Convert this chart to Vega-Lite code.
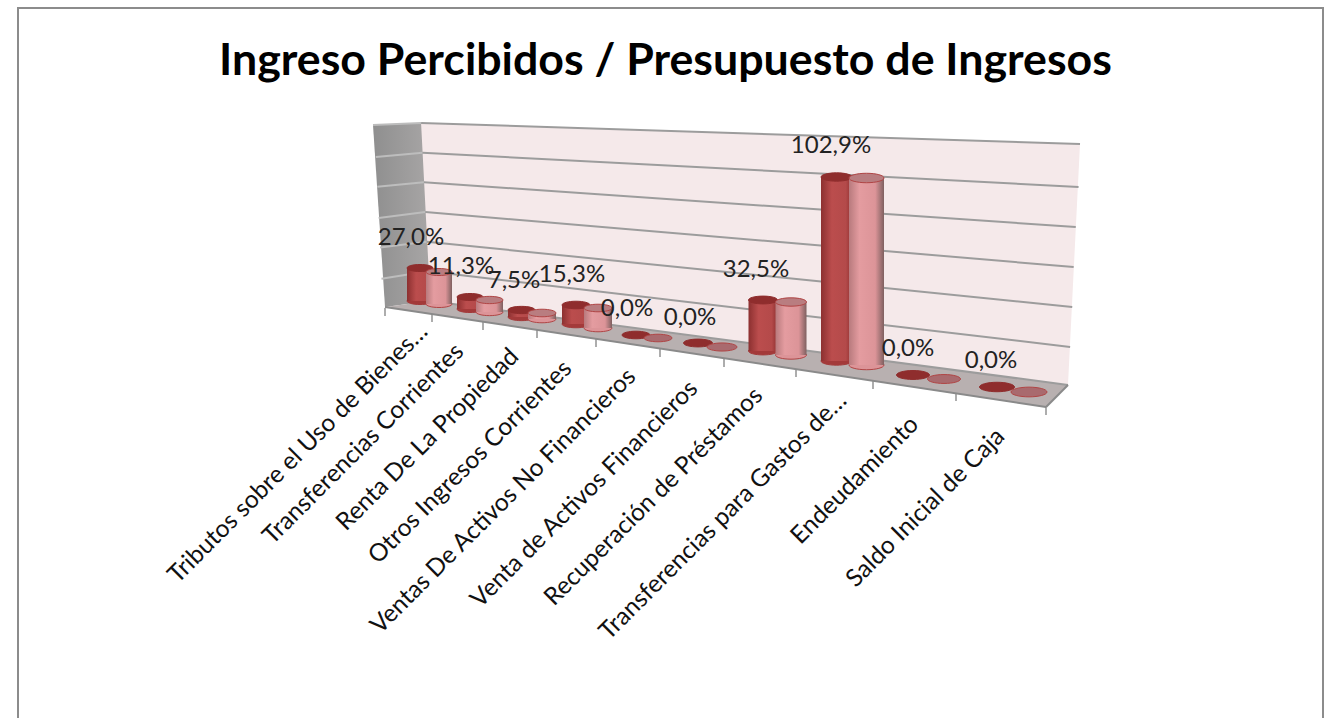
{"$schema":"https://vega.github.io/schema/vega-lite/v6.json","width":1305,"height":712,"autosize":{"type":"none"},"padding":{"left":18,"top":8,"right":7,"bottom":0},"background":"white","view":{"stroke":"#8c8c8c","strokeWidth":2,"fill":null},
"title":{"text":"Ingreso Percibidos / Presupuesto de Ingresos","font":"Lato","fontSize":44.7,"fontWeight":"bold","color":"#000000","anchor":"middle","orient":"top","frame":"group","offset":-77,"dx":-5},
"datasets":{
"valores":[
{"categoria":"Tributos sobre el Uso de Bienes…","orden":1,"serie":"Serie 1","valor":27.0,"etiqueta":"27,0%"},
{"categoria":"Transferencias Corrientes","orden":2,"serie":"Serie 1","valor":11.3,"etiqueta":"11,3%"},
{"categoria":"Renta De La Propiedad","orden":3,"serie":"Serie 1","valor":7.5,"etiqueta":"7,5%"},
{"categoria":"Otros Ingresos Corrientes","orden":4,"serie":"Serie 1","valor":15.3,"etiqueta":"15,3%"},
{"categoria":"Ventas De Activos No Financieros","orden":5,"serie":"Serie 1","valor":0,"etiqueta":"0,0%"},
{"categoria":"Venta de Activos Financieros","orden":6,"serie":"Serie 1","valor":0,"etiqueta":"0,0%"},
{"categoria":"Recuperación de Préstamos","orden":7,"serie":"Serie 1","valor":32.5,"etiqueta":"32,5%"},
{"categoria":"Transferencias para Gastos de…","orden":8,"serie":"Serie 1","valor":102.9,"etiqueta":"102,9%"},
{"categoria":"Endeudamiento","orden":9,"serie":"Serie 1","valor":0,"etiqueta":"0,0%"},
{"categoria":"Saldo Inicial de Caja","orden":10,"serie":"Serie 1","valor":0,"etiqueta":"0,0%"},
{"categoria":"Tributos sobre el Uso de Bienes…","orden":1,"serie":"Serie 2","valor":27.0},
{"categoria":"Transferencias Corrientes","orden":2,"serie":"Serie 2","valor":11.3},
{"categoria":"Renta De La Propiedad","orden":3,"serie":"Serie 2","valor":7.5},
{"categoria":"Otros Ingresos Corrientes","orden":4,"serie":"Serie 2","valor":15.3},
{"categoria":"Ventas De Activos No Financieros","orden":5,"serie":"Serie 2","valor":0},
{"categoria":"Venta de Activos Financieros","orden":6,"serie":"Serie 2","valor":0},
{"categoria":"Recuperación de Préstamos","orden":7,"serie":"Serie 2","valor":32.5},
{"categoria":"Transferencias para Gastos de…","orden":8,"serie":"Serie 2","valor":102.9},
{"categoria":"Endeudamiento","orden":9,"serie":"Serie 2","valor":0},
{"categoria":"Saldo Inicial de Caja","orden":10,"serie":"Serie 2","valor":0}
],
"lateral":[{"p":0,"a":118.6,"b":118.6},{"p":1.7,"a":119,"b":-4},{"p":8.1,"a":119.8,"b":0}],
"fondo":[{"p":6.8,"a":120,"b":120},{"p":8.1,"a":119.7,"b":0},{"p":98.3,"a":106,"b":-56.6},{"p":100,"a":105.8,"b":105.8}],
"suelo":[{"p":1.7,"a":-4,"b":-4},{"p":8.1,"a":0,"b":-8.6},{"p":95.2,"a":-54.7,"b":-71.5},{"p":98.3,"a":-56.6,"b":-56.6}],
"rejilla":[
{"p1":6.8,"p2":100,"n1":120,"n2":105.8},{"p1":7.0,"p2":99.8,"n1":100,"n2":76.9},{"p1":7.2,"p2":99.4,"n1":80,"n2":49.9},{"p1":7.4,"p2":99.1,"n1":60,"n2":22.9},{"p1":7.6,"p2":98.9,"n1":40,"n2":-4},{"p1":7.8,"p2":98.6,"n1":20,"n2":-31},{"p1":8.1,"p2":98.3,"n1":0,"n2":-56.6}],
"rejillaLateral":[
{"p1":0,"p2":6.8,"n1":118.6,"n2":120},{"p1":0.4,"p2":7.0,"n1":97,"n2":100},{"p1":0.6,"p2":7.2,"n1":77,"n2":80},{"p1":0.8,"p2":7.4,"n1":56,"n2":60},{"p1":1.0,"p2":7.6,"n1":36,"n2":40},{"p1":1.2,"p2":7.8,"n1":15,"n2":20}],
"bordes":[{"p1":1.7,"p2":95.2,"n1":-4,"n2":-71.5},{"p1":95.2,"p2":98.3,"n1":-71.5,"n2":-56.6}],
"marcas":[{"m":1},{"m":2},{"m":3},{"m":4},{"m":5},{"m":6},{"m":7},{"m":8},{"m":9},{"m":10},{"m":11}]
},
"resolve":{"scale":{"x":"independent","y":"independent","yOffset":"independent"}},
"layer":[
{"data":{"name":"lateral"},"mark":{"type":"area","color":{"x1":0,"y1":0,"x2":1,"y2":0,"gradient":"linear","stops":[{"offset":0,"color":"#8f8f8f"},{"offset":1,"color":"#a8a6a6"}]}},"encoding":{"x":{"field":"p","type":"quantitative","axis":null,"scale":{"domain":[0,100],"range":[355,1062],"nice":false,"zero":false}},"y":{"field":"a","type":"quantitative","axis":null,"scale":{"domain":[0,120],"range":[293,115],"nice":false,"zero":false}},"y2":{"field":"b"}}},
{"data":{"name":"fondo"},"mark":{"type":"area","color":"#f5e9ea"},"encoding":{"x":{"field":"p","type":"quantitative","axis":null,"scale":{"domain":[0,100],"range":[355,1062],"nice":false,"zero":false}},"y":{"field":"a","type":"quantitative","axis":null,"scale":{"domain":[0,120],"range":[293,115],"nice":false,"zero":false}},"y2":{"field":"b"}}},
{"data":{"name":"suelo"},"mark":{"type":"area","color":"#b8b0b0"},"encoding":{"x":{"field":"p","type":"quantitative","axis":null,"scale":{"domain":[0,100],"range":[355,1062],"nice":false,"zero":false}},"y":{"field":"a","type":"quantitative","axis":null,"scale":{"domain":[0,120],"range":[293,115],"nice":false,"zero":false}},"y2":{"field":"b"}}},
{"data":{"name":"rejillaLateral"},"mark":{"type":"rule","color":"#bdbdbd","strokeWidth":2},"encoding":{"x":{"field":"p1","type":"quantitative","axis":null,"scale":{"domain":[0,100],"range":[355,1062],"nice":false,"zero":false}},"x2":{"field":"p2"},"y":{"field":"n1","type":"quantitative","axis":null,"scale":{"domain":[0,120],"range":[293,115],"nice":false,"zero":false}},"y2":{"field":"n2"}}},
{"data":{"name":"rejilla"},"mark":{"type":"rule","color":"#9c9c9c","strokeWidth":2},"encoding":{"x":{"field":"p1","type":"quantitative","axis":null,"scale":{"domain":[0,100],"range":[355,1062],"nice":false,"zero":false}},"x2":{"field":"p2"},"y":{"field":"n1","type":"quantitative","axis":null,"scale":{"domain":[0,120],"range":[293,115],"nice":false,"zero":false}},"y2":{"field":"n2"}}},
{"data":{"name":"bordes"},"mark":{"type":"rule","color":"#8a8a8a","strokeWidth":2},"encoding":{"x":{"field":"p1","type":"quantitative","axis":null,"scale":{"domain":[0,100],"range":[355,1062],"nice":false,"zero":false}},"x2":{"field":"p2"},"y":{"field":"n1","type":"quantitative","axis":null,"scale":{"domain":[0,120],"range":[293,115],"nice":false,"zero":false}},"y2":{"field":"n2"}}},
{"data":{"name":"marcas"},"mark":{"type":"tick","orient":"vertical","color":"#8a8a8a","size":8,"thickness":2},"encoding":{"x":{"field":"m","type":"quantitative","axis":null,"scale":{"domain":[1,2,3,4,5,6,7,8,9,10,11],"range":[367,414,465,519,578,642,706,778,855,938,1028],"nice":false,"zero":false}},"y":{"datum":0,"type":"quantitative","axis":null,"scale":{"domain":[0,1],"range":[0,-1],"nice":false}},"yOffset":{"field":"m","type":"quantitative","scale":{"domain":[1,2,3,4,5,6,7,8,9,10,11],"range":[304,310,318,326,335,345,355,365,377,389,403],"nice":false,"zero":false}}}},

{"data":{"name":"valores"},"transform":[{"filter":"datum.serie==='Serie 1' && datum.orden===1"}],"encoding":{"x":{"field":"orden","type":"quantitative","axis":null,"scale":{"domain":[1,2],"range":[402,403],"padding":0,"nice":false,"zero":false}},"y":{"field":"valor","type":"quantitative","axis":null,"scale":{"domain":[0,27],"range":[293,260],"nice":false,"zero":false}}},"layer":[
{"mark":{"type":"point","filled":true,"opacity":1,"size":676,"strokeWidth":1,"shape":"M-1,0A1,0.27,0,1,1,1,0A1,0.27,0,1,1,-1,0Z","fill":"#a33a3a","stroke":"#a33a3a"},"encoding":{"y":{"datum":0,"type":"quantitative","axis":null}}},
{"mark":{"type":"bar","orient":"vertical","size":26,"color":{"x1":0,"y1":0,"x2":1,"y2":0,"gradient":"linear","stops":[{"offset":0,"color":"#8c3030"},{"offset":0.35,"color":"#bb4d4d"},{"offset":0.8,"color":"#b44a4a"},{"offset":1,"color":"#8f3030"}]}},"encoding":{"y2":{"datum":0}}},
{"mark":{"type":"point","filled":true,"opacity":1,"size":676,"strokeWidth":1,"shape":"M-1,0A1,0.27,0,1,1,1,0A1,0.27,0,1,1,-1,0Z","fill":"#8f2d2d","stroke":"#8f2d2d"}}
]},
{"data":{"name":"valores"},"transform":[{"filter":"datum.serie==='Serie 2' && datum.orden===1"}],"encoding":{"x":{"field":"orden","type":"quantitative","axis":null,"scale":{"domain":[1,2],"range":[421,422],"padding":0,"nice":false,"zero":false}},"y":{"field":"valor","type":"quantitative","axis":null,"scale":{"domain":[0,27],"range":[296,264],"nice":false,"zero":false}}},"layer":[
{"mark":{"type":"point","filled":true,"opacity":1,"size":676,"strokeWidth":1,"shape":"M-1,0A1,0.27,0,1,1,1,0A1,0.27,0,1,1,-1,0Z","fill":"#dc9498","stroke":"#b04545"},"encoding":{"y":{"datum":0,"type":"quantitative","axis":null}}},
{"mark":{"type":"bar","orient":"vertical","size":26,"color":{"x1":0,"y1":0,"x2":1,"y2":0,"gradient":"linear","stops":[{"offset":0,"color":"#b87a7d"},{"offset":0.3,"color":"#e49ca0"},{"offset":0.75,"color":"#dc9498"},{"offset":1,"color":"#7f6060"}]}},"encoding":{"y2":{"datum":0}}},
{"mark":{"type":"point","filled":true,"opacity":1,"size":676,"strokeWidth":1,"shape":"M-1,0A1,0.27,0,1,1,1,0A1,0.27,0,1,1,-1,0Z","fill":"#b97d80","stroke":"#b04545"}}
]},

{"data":{"name":"valores"},"transform":[{"filter":"datum.serie==='Serie 1' && datum.orden===2"}],"encoding":{"x":{"field":"orden","type":"quantitative","axis":null,"scale":{"domain":[2,3],"range":[452,453],"padding":0,"nice":false,"zero":false}},"y":{"field":"valor","type":"quantitative","axis":null,"scale":{"domain":[0,11.3],"range":[301,289],"nice":false,"zero":false}}},"layer":[
{"mark":{"type":"point","filled":true,"opacity":1,"size":676,"strokeWidth":1,"shape":"M-1,0A1,0.27,0,1,1,1,0A1,0.27,0,1,1,-1,0Z","fill":"#a33a3a","stroke":"#a33a3a"},"encoding":{"y":{"datum":0,"type":"quantitative","axis":null}}},
{"mark":{"type":"bar","orient":"vertical","size":26,"color":{"x1":0,"y1":0,"x2":1,"y2":0,"gradient":"linear","stops":[{"offset":0,"color":"#8c3030"},{"offset":0.35,"color":"#bb4d4d"},{"offset":0.8,"color":"#b44a4a"},{"offset":1,"color":"#8f3030"}]}},"encoding":{"y2":{"datum":0}}},
{"mark":{"type":"point","filled":true,"opacity":1,"size":676,"strokeWidth":1,"shape":"M-1,0A1,0.27,0,1,1,1,0A1,0.27,0,1,1,-1,0Z","fill":"#8f2d2d","stroke":"#8f2d2d"}}
]},
{"data":{"name":"valores"},"transform":[{"filter":"datum.serie==='Serie 2' && datum.orden===2"}],"encoding":{"x":{"field":"orden","type":"quantitative","axis":null,"scale":{"domain":[2,3],"range":[471.5,472.5],"padding":0,"nice":false,"zero":false}},"y":{"field":"valor","type":"quantitative","axis":null,"scale":{"domain":[0,11.3],"range":[304,292],"nice":false,"zero":false}}},"layer":[
{"mark":{"type":"point","filled":true,"opacity":1,"size":729,"strokeWidth":1,"shape":"M-1,0A1,0.27,0,1,1,1,0A1,0.27,0,1,1,-1,0Z","fill":"#dc9498","stroke":"#b04545"},"encoding":{"y":{"datum":0,"type":"quantitative","axis":null}}},
{"mark":{"type":"bar","orient":"vertical","size":27,"color":{"x1":0,"y1":0,"x2":1,"y2":0,"gradient":"linear","stops":[{"offset":0,"color":"#b87a7d"},{"offset":0.3,"color":"#e49ca0"},{"offset":0.75,"color":"#dc9498"},{"offset":1,"color":"#7f6060"}]}},"encoding":{"y2":{"datum":0}}},
{"mark":{"type":"point","filled":true,"opacity":1,"size":729,"strokeWidth":1,"shape":"M-1,0A1,0.27,0,1,1,1,0A1,0.27,0,1,1,-1,0Z","fill":"#b97d80","stroke":"#b04545"}}
]},

{"data":{"name":"valores"},"transform":[{"filter":"datum.serie==='Serie 1' && datum.orden===3"}],"encoding":{"x":{"field":"orden","type":"quantitative","axis":null,"scale":{"domain":[3,4],"range":[503.5,504.5],"padding":0,"nice":false,"zero":false}},"y":{"field":"valor","type":"quantitative","axis":null,"scale":{"domain":[0,7.5],"range":[309,302],"nice":false,"zero":false}}},"layer":[
{"mark":{"type":"point","filled":true,"opacity":1,"size":729,"strokeWidth":1,"shape":"M-1,0A1,0.27,0,1,1,1,0A1,0.27,0,1,1,-1,0Z","fill":"#a33a3a","stroke":"#a33a3a"},"encoding":{"y":{"datum":0,"type":"quantitative","axis":null}}},
{"mark":{"type":"bar","orient":"vertical","size":27,"color":{"x1":0,"y1":0,"x2":1,"y2":0,"gradient":"linear","stops":[{"offset":0,"color":"#8c3030"},{"offset":0.35,"color":"#bb4d4d"},{"offset":0.8,"color":"#b44a4a"},{"offset":1,"color":"#8f3030"}]}},"encoding":{"y2":{"datum":0}}},
{"mark":{"type":"point","filled":true,"opacity":1,"size":729,"strokeWidth":1,"shape":"M-1,0A1,0.27,0,1,1,1,0A1,0.27,0,1,1,-1,0Z","fill":"#8f2d2d","stroke":"#8f2d2d"}}
]},
{"data":{"name":"valores"},"transform":[{"filter":"datum.serie==='Serie 2' && datum.orden===3"}],"encoding":{"x":{"field":"orden","type":"quantitative","axis":null,"scale":{"domain":[3,4],"range":[524,525],"padding":0,"nice":false,"zero":false}},"y":{"field":"valor","type":"quantitative","axis":null,"scale":{"domain":[0,7.5],"range":[311,305],"nice":false,"zero":false}}},"layer":[
{"mark":{"type":"point","filled":true,"opacity":1,"size":784,"strokeWidth":1,"shape":"M-1,0A1,0.27,0,1,1,1,0A1,0.27,0,1,1,-1,0Z","fill":"#dc9498","stroke":"#b04545"},"encoding":{"y":{"datum":0,"type":"quantitative","axis":null}}},
{"mark":{"type":"bar","orient":"vertical","size":28,"color":{"x1":0,"y1":0,"x2":1,"y2":0,"gradient":"linear","stops":[{"offset":0,"color":"#b87a7d"},{"offset":0.3,"color":"#e49ca0"},{"offset":0.75,"color":"#dc9498"},{"offset":1,"color":"#7f6060"}]}},"encoding":{"y2":{"datum":0}}},
{"mark":{"type":"point","filled":true,"opacity":1,"size":784,"strokeWidth":1,"shape":"M-1,0A1,0.27,0,1,1,1,0A1,0.27,0,1,1,-1,0Z","fill":"#b97d80","stroke":"#b04545"}}
]},

{"data":{"name":"valores"},"transform":[{"filter":"datum.serie==='Serie 1' && datum.orden===4"}],"encoding":{"x":{"field":"orden","type":"quantitative","axis":null,"scale":{"domain":[4,5],"range":[558,559],"padding":0,"nice":false,"zero":false}},"y":{"field":"valor","type":"quantitative","axis":null,"scale":{"domain":[0,15.3],"range":[316,297],"nice":false,"zero":false}}},"layer":[
{"mark":{"type":"point","filled":true,"opacity":1,"size":784,"strokeWidth":1,"shape":"M-1,0A1,0.27,0,1,1,1,0A1,0.27,0,1,1,-1,0Z","fill":"#a33a3a","stroke":"#a33a3a"},"encoding":{"y":{"datum":0,"type":"quantitative","axis":null}}},
{"mark":{"type":"bar","orient":"vertical","size":28,"color":{"x1":0,"y1":0,"x2":1,"y2":0,"gradient":"linear","stops":[{"offset":0,"color":"#8c3030"},{"offset":0.35,"color":"#bb4d4d"},{"offset":0.8,"color":"#b44a4a"},{"offset":1,"color":"#8f3030"}]}},"encoding":{"y2":{"datum":0}}},
{"mark":{"type":"point","filled":true,"opacity":1,"size":784,"strokeWidth":1,"shape":"M-1,0A1,0.27,0,1,1,1,0A1,0.27,0,1,1,-1,0Z","fill":"#8f2d2d","stroke":"#8f2d2d"}}
]},
{"data":{"name":"valores"},"transform":[{"filter":"datum.serie==='Serie 2' && datum.orden===4"}],"encoding":{"x":{"field":"orden","type":"quantitative","axis":null,"scale":{"domain":[4,5],"range":[580,581],"padding":0,"nice":false,"zero":false}},"y":{"field":"valor","type":"quantitative","axis":null,"scale":{"domain":[0,15.3],"range":[320,300],"nice":false,"zero":false}}},"layer":[
{"mark":{"type":"point","filled":true,"opacity":1,"size":784,"strokeWidth":1,"shape":"M-1,0A1,0.27,0,1,1,1,0A1,0.27,0,1,1,-1,0Z","fill":"#dc9498","stroke":"#b04545"},"encoding":{"y":{"datum":0,"type":"quantitative","axis":null}}},
{"mark":{"type":"bar","orient":"vertical","size":28,"color":{"x1":0,"y1":0,"x2":1,"y2":0,"gradient":"linear","stops":[{"offset":0,"color":"#b87a7d"},{"offset":0.3,"color":"#e49ca0"},{"offset":0.75,"color":"#dc9498"},{"offset":1,"color":"#7f6060"}]}},"encoding":{"y2":{"datum":0}}},
{"mark":{"type":"point","filled":true,"opacity":1,"size":784,"strokeWidth":1,"shape":"M-1,0A1,0.27,0,1,1,1,0A1,0.27,0,1,1,-1,0Z","fill":"#b97d80","stroke":"#b04545"}}
]},

{"data":{"name":"valores"},"transform":[{"filter":"datum.serie==='Serie 1' && datum.orden===5"}],"encoding":{"x":{"field":"orden","type":"quantitative","axis":null,"scale":{"domain":[5,6],"range":[618,619],"nice":false,"zero":false}},"y":{"field":"valor","type":"quantitative","axis":null,"scale":{"domain":[0,1],"range":[327,326],"nice":false,"zero":false}}},"mark":{"type":"point","filled":true,"opacity":1,"size":784,"strokeWidth":1,"shape":"M-1,0A1,0.27,0,1,1,1,0A1,0.27,0,1,1,-1,0Z","fill":"#8f2d2d","stroke":"#8f2d2d"}},
{"data":{"name":"valores"},"transform":[{"filter":"datum.serie==='Serie 2' && datum.orden===5"}],"encoding":{"x":{"field":"orden","type":"quantitative","axis":null,"scale":{"domain":[5,6],"range":[640,641],"nice":false,"zero":false}},"y":{"field":"valor","type":"quantitative","axis":null,"scale":{"domain":[0,1],"range":[330,329],"nice":false,"zero":false}}},"mark":{"type":"point","filled":true,"opacity":1,"size":784,"strokeWidth":1,"shape":"M-1,0A1,0.27,0,1,1,1,0A1,0.27,0,1,1,-1,0Z","fill":"#a96a6e","stroke":"#b04545"}},
{"data":{"name":"valores"},"transform":[{"filter":"datum.serie==='Serie 1' && datum.orden===6"}],"encoding":{"x":{"field":"orden","type":"quantitative","axis":null,"scale":{"domain":[6,7],"range":[680,681],"nice":false,"zero":false}},"y":{"field":"valor","type":"quantitative","axis":null,"scale":{"domain":[0,1],"range":[335,334],"nice":false,"zero":false}}},"mark":{"type":"point","filled":true,"opacity":1,"size":841,"strokeWidth":1,"shape":"M-1,0A1,0.27,0,1,1,1,0A1,0.27,0,1,1,-1,0Z","fill":"#8f2d2d","stroke":"#8f2d2d"}},
{"data":{"name":"valores"},"transform":[{"filter":"datum.serie==='Serie 2' && datum.orden===6"}],"encoding":{"x":{"field":"orden","type":"quantitative","axis":null,"scale":{"domain":[6,7],"range":[704,705],"nice":false,"zero":false}},"y":{"field":"valor","type":"quantitative","axis":null,"scale":{"domain":[0,1],"range":[339,338],"nice":false,"zero":false}}},"mark":{"type":"point","filled":true,"opacity":1,"size":900,"strokeWidth":1,"shape":"M-1,0A1,0.27,0,1,1,1,0A1,0.27,0,1,1,-1,0Z","fill":"#a96a6e","stroke":"#b04545"}},

{"data":{"name":"valores"},"transform":[{"filter":"datum.serie==='Serie 1' && datum.orden===7"}],"encoding":{"x":{"field":"orden","type":"quantitative","axis":null,"scale":{"domain":[7,8],"range":[745,746],"padding":0,"nice":false,"zero":false}},"y":{"field":"valor","type":"quantitative","axis":null,"scale":{"domain":[0,32.5],"range":[343,292],"nice":false,"zero":false}}},"layer":[
{"mark":{"type":"point","filled":true,"opacity":1,"size":841,"strokeWidth":1,"shape":"M-1,0A1,0.27,0,1,1,1,0A1,0.27,0,1,1,-1,0Z","fill":"#a33a3a","stroke":"#a33a3a"},"encoding":{"y":{"datum":0,"type":"quantitative","axis":null}}},
{"mark":{"type":"bar","orient":"vertical","size":29,"color":{"x1":0,"y1":0,"x2":1,"y2":0,"gradient":"linear","stops":[{"offset":0,"color":"#8c3030"},{"offset":0.35,"color":"#bb4d4d"},{"offset":0.8,"color":"#b44a4a"},{"offset":1,"color":"#8f3030"}]}},"encoding":{"y2":{"datum":0}}},
{"mark":{"type":"point","filled":true,"opacity":1,"size":841,"strokeWidth":1,"shape":"M-1,0A1,0.27,0,1,1,1,0A1,0.27,0,1,1,-1,0Z","fill":"#8f2d2d","stroke":"#8f2d2d"}}
]},
{"data":{"name":"valores"},"transform":[{"filter":"datum.serie==='Serie 2' && datum.orden===7"}],"encoding":{"x":{"field":"orden","type":"quantitative","axis":null,"scale":{"domain":[7,8],"range":[773,774],"padding":0,"nice":false,"zero":false}},"y":{"field":"valor","type":"quantitative","axis":null,"scale":{"domain":[0,32.5],"range":[347,294],"nice":false,"zero":false}}},"layer":[
{"mark":{"type":"point","filled":true,"opacity":1,"size":961,"strokeWidth":1,"shape":"M-1,0A1,0.27,0,1,1,1,0A1,0.27,0,1,1,-1,0Z","fill":"#dc9498","stroke":"#b04545"},"encoding":{"y":{"datum":0,"type":"quantitative","axis":null}}},
{"mark":{"type":"bar","orient":"vertical","size":31,"color":{"x1":0,"y1":0,"x2":1,"y2":0,"gradient":"linear","stops":[{"offset":0,"color":"#b87a7d"},{"offset":0.3,"color":"#e49ca0"},{"offset":0.75,"color":"#dc9498"},{"offset":1,"color":"#7f6060"}]}},"encoding":{"y2":{"datum":0}}},
{"mark":{"type":"point","filled":true,"opacity":1,"size":961,"strokeWidth":1,"shape":"M-1,0A1,0.27,0,1,1,1,0A1,0.27,0,1,1,-1,0Z","fill":"#b97d80","stroke":"#b04545"}}
]},

{"data":{"name":"valores"},"transform":[{"filter":"datum.serie==='Serie 1' && datum.orden===8"}],"encoding":{"x":{"field":"orden","type":"quantitative","axis":null,"scale":{"domain":[8,9],"range":[818.5,819.5],"padding":0,"nice":false,"zero":false}},"y":{"field":"valor","type":"quantitative","axis":null,"scale":{"domain":[0,102.9],"range":[353,169],"nice":false,"zero":false}}},"layer":[
{"mark":{"type":"point","filled":true,"opacity":1,"size":961,"strokeWidth":1,"shape":"M-1,0A1,0.27,0,1,1,1,0A1,0.27,0,1,1,-1,0Z","fill":"#a33a3a","stroke":"#a33a3a"},"encoding":{"y":{"datum":0,"type":"quantitative","axis":null}}},
{"mark":{"type":"bar","orient":"vertical","size":31,"color":{"x1":0,"y1":0,"x2":1,"y2":0,"gradient":"linear","stops":[{"offset":0,"color":"#8c3030"},{"offset":0.35,"color":"#bb4d4d"},{"offset":0.8,"color":"#b44a4a"},{"offset":1,"color":"#8f3030"}]}},"encoding":{"y2":{"datum":0}}},
{"mark":{"type":"point","filled":true,"opacity":1,"size":961,"strokeWidth":1,"shape":"M-1,0A1,0.27,0,1,1,1,0A1,0.27,0,1,1,-1,0Z","fill":"#8f2d2d","stroke":"#8f2d2d"}}
]},
{"data":{"name":"valores"},"transform":[{"filter":"datum.serie==='Serie 2' && datum.orden===8"}],"encoding":{"x":{"field":"orden","type":"quantitative","axis":null,"scale":{"domain":[8,9],"range":[848.5,849.5],"padding":0,"nice":false,"zero":false}},"y":{"field":"valor","type":"quantitative","axis":null,"scale":{"domain":[0,102.9],"range":[357,170],"nice":false,"zero":false}}},"layer":[
{"mark":{"type":"point","filled":true,"opacity":1,"size":1225,"strokeWidth":1,"shape":"M-1,0A1,0.27,0,1,1,1,0A1,0.27,0,1,1,-1,0Z","fill":"#dc9498","stroke":"#b04545"},"encoding":{"y":{"datum":0,"type":"quantitative","axis":null}}},
{"mark":{"type":"bar","orient":"vertical","size":35,"color":{"x1":0,"y1":0,"x2":1,"y2":0,"gradient":"linear","stops":[{"offset":0,"color":"#b87a7d"},{"offset":0.3,"color":"#e49ca0"},{"offset":0.75,"color":"#dc9498"},{"offset":1,"color":"#7f6060"}]}},"encoding":{"y2":{"datum":0}}},
{"mark":{"type":"point","filled":true,"opacity":1,"size":1225,"strokeWidth":1,"shape":"M-1,0A1,0.27,0,1,1,1,0A1,0.27,0,1,1,-1,0Z","fill":"#b97d80","stroke":"#b04545"}}
]},

{"data":{"name":"valores"},"transform":[{"filter":"datum.serie==='Serie 1' && datum.orden===9"}],"encoding":{"x":{"field":"orden","type":"quantitative","axis":null,"scale":{"domain":[9,10],"range":[895,896],"nice":false,"zero":false}},"y":{"field":"valor","type":"quantitative","axis":null,"scale":{"domain":[0,1],"range":[367,366],"nice":false,"zero":false}}},"mark":{"type":"point","filled":true,"opacity":1,"size":1089,"strokeWidth":1,"shape":"M-1,0A1,0.27,0,1,1,1,0A1,0.27,0,1,1,-1,0Z","fill":"#8f2d2d","stroke":"#8f2d2d"}},
{"data":{"name":"valores"},"transform":[{"filter":"datum.serie==='Serie 2' && datum.orden===9"}],"encoding":{"x":{"field":"orden","type":"quantitative","axis":null,"scale":{"domain":[9,10],"range":[926,927],"nice":false,"zero":false}},"y":{"field":"valor","type":"quantitative","axis":null,"scale":{"domain":[0,1],"range":[371,370],"nice":false,"zero":false}}},"mark":{"type":"point","filled":true,"opacity":1,"size":1089,"strokeWidth":1,"shape":"M-1,0A1,0.27,0,1,1,1,0A1,0.27,0,1,1,-1,0Z","fill":"#a96a6e","stroke":"#b04545"}},
{"data":{"name":"valores"},"transform":[{"filter":"datum.serie==='Serie 1' && datum.orden===10"}],"encoding":{"x":{"field":"orden","type":"quantitative","axis":null,"scale":{"domain":[10,11],"range":[979,980],"nice":false,"zero":false}},"y":{"field":"valor","type":"quantitative","axis":null,"scale":{"domain":[0,1],"range":[379,378],"nice":false,"zero":false}}},"mark":{"type":"point","filled":true,"opacity":1,"size":1225,"strokeWidth":1,"shape":"M-1,0A1,0.27,0,1,1,1,0A1,0.27,0,1,1,-1,0Z","fill":"#8f2d2d","stroke":"#8f2d2d"}},
{"data":{"name":"valores"},"transform":[{"filter":"datum.serie==='Serie 2' && datum.orden===10"}],"encoding":{"x":{"field":"orden","type":"quantitative","axis":null,"scale":{"domain":[10,11],"range":[1011,1012],"nice":false,"zero":false}},"y":{"field":"valor","type":"quantitative","axis":null,"scale":{"domain":[0,1],"range":[384,383],"nice":false,"zero":false}}},"mark":{"type":"point","filled":true,"opacity":1,"size":1296,"strokeWidth":1,"shape":"M-1,0A1,0.27,0,1,1,1,0A1,0.27,0,1,1,-1,0Z","fill":"#a96a6e","stroke":"#b04545"}},

{"data":{"name":"valores"},"transform":[{"filter":"datum.serie==='Serie 1'"}],"mark":{"type":"text","font":"Lato","fontSize":24,"color":"#222222","align":"center","baseline":"middle"},"encoding":{"text":{"field":"etiqueta"},"x":{"field":"orden","type":"quantitative","axis":null,"scale":{"domain":[1,2,3,4,5,6,7,8,9,10],"range":[393,443,496,554,609,672,738,813,890,973],"nice":false,"zero":false}},"y":{"datum":0,"type":"quantitative","axis":null,"scale":{"domain":[0,1],"range":[0,-1],"nice":false}},"yOffset":{"field":"orden","type":"quantitative","scale":{"domain":[1,2,3,4,5,6,7,8,9,10],"range":[230,259,273,267,301,310,262,138,341,353],"nice":false,"zero":false}}}},
{"data":{"name":"valores"},"transform":[{"filter":"datum.serie==='Serie 1'"}],"mark":{"type":"text","font":"Lato","fontSize":24.5,"color":"#111111","align":"right","baseline":"middle","angle":315},"encoding":{"text":{"field":"categoria"},"x":{"field":"orden","type":"quantitative","axis":null,"scale":{"domain":[1,2,3,4,5,6,7,8,9,10],"range":[406,442,497,550,614,676,741,825,897,983],"nice":false,"zero":false}},"y":{"datum":0,"type":"quantitative","axis":null,"scale":{"domain":[0,1],"range":[0,-1],"nice":false}},"yOffset":{"field":"orden","type":"quantitative","scale":{"domain":[1,2,3,4,5,6,7,8,9,10],"range":[320,340,345,357,365,377,384,389,413,425],"nice":false,"zero":false}}}}
]}
